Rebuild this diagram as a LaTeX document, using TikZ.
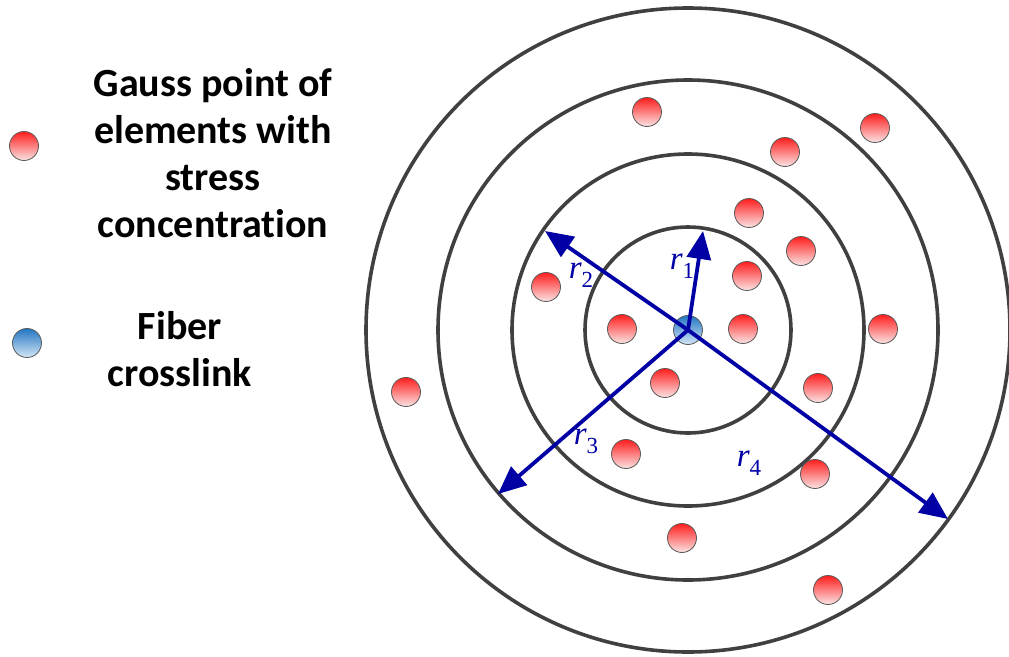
\documentclass[tikz,border=0pt]{standalone}
\usepackage{fontspec}
\setmainfont{Carlito}[Ligatures=NoCommon]
\newfontfamily\tms{Liberation Serif}
\usetikzlibrary{arrows.meta}
\definecolor{ringgray}{RGB}{64,64,64}
\definecolor{arrblue}{RGB}{0,0,165}
\definecolor{redtop}{RGB}{255,30,30}
\definecolor{redbot}{RGB}{250,228,228}
\definecolor{bluetop}{RGB}{35,118,195}
\definecolor{bluebot}{RGB}{212,230,246}
\newcommand{\rlab}[1]{{\tms\fontsize{33}{33}\selectfont\itshape r\raisebox{-0.28em}{\upshape\fontsize{23}{23}\selectfont #1}}}
\begin{document}
\begin{tikzpicture}[x=1pt,y=-1pt,
  ring/.style={draw=ringgray,line width=3.6pt},
  gauss/.style={circle,draw=gray!70!black,line width=0.8pt,minimum size=29pt,inner sep=0pt,top color=redtop,bottom color=redbot},
  fiber/.style={circle,draw=gray!70!black,line width=0.8pt,minimum size=29pt,inner sep=0pt,top color=bluetop,bottom color=bluebot},
  radius arrow/.style={draw=arrblue,line width=3.8pt,-{Triangle[length=28pt,width=24pt]}},
  legtext/.style={font=\bfseries\fontsize{40}{47}\selectfont,align=center},
  rtext/.style={text=arrblue,inner sep=0pt}]
\useasboundingbox (0,0) rectangle (1009,656);
\coordinate (C) at (688,330);
\draw[ring] (C) circle[radius=103pt];
\draw[ring] (C) circle[radius=176pt];
\draw[ring] (C) circle[radius=250pt];
\draw[ring] (C) circle[radius=322pt];
% gauss points
\node[gauss] (g1) at (647,112) {};
\node[gauss] (g2) at (875,128) {};
\node[gauss] (g3) at (785,152) {};
\node[gauss] (g4) at (749,213) {};
\node[gauss] (g5) at (801,251) {};
\node[gauss] (g6) at (747,276) {};
\node[gauss] (g7) at (546,287) {};
\node[gauss] (g8) at (622,329) {};
\node[gauss] (g9) at (743,329) {};
\node[gauss] (g10) at (883,329) {};
\node[gauss] (g11) at (665,383) {};
\node[gauss] (g12) at (406,392) {};
\node[gauss] (g13) at (818,388) {};
\node[gauss] (g14) at (626,454) {};
\node[gauss] (g15) at (815,474) {};
\node[gauss] (g16) at (682,538) {};
\node[gauss] (g17) at (828,590) {};
\node[fiber] (f) at (C) {};
% arrows
\coordinate (t1) at (703,231);
\coordinate (t2) at (545,231);
\coordinate (t3) at (498,494);
\coordinate (t4) at (948,519);
\draw[radius arrow] (f.center) -- (t1);
\draw[radius arrow] (f.center) -- (t2);
\draw[radius arrow] (f.center) -- (t3);
\draw[radius arrow] (f.center) -- (t4);
\node[rtext] (l1) at (682,266) {\rlab{1}};
\node[rtext] (l2) at (581,275) {\rlab{2}};
\node[rtext] (l3) at (586,441) {\rlab{3}};
\node[rtext] (l4) at (749,463) {\rlab{4}};
% legend
\node[gauss] (lg) at (24,146) {};
\node[fiber] (lf) at (27,343) {};
\node[legtext,anchor=base] (tg) at (213,237) {Gauss point of\\elements with\\stress\\concentration};
\node[legtext,anchor=base] (tf) at (180,386) {Fiber\\crosslink};
\end{tikzpicture}
\end{document}
